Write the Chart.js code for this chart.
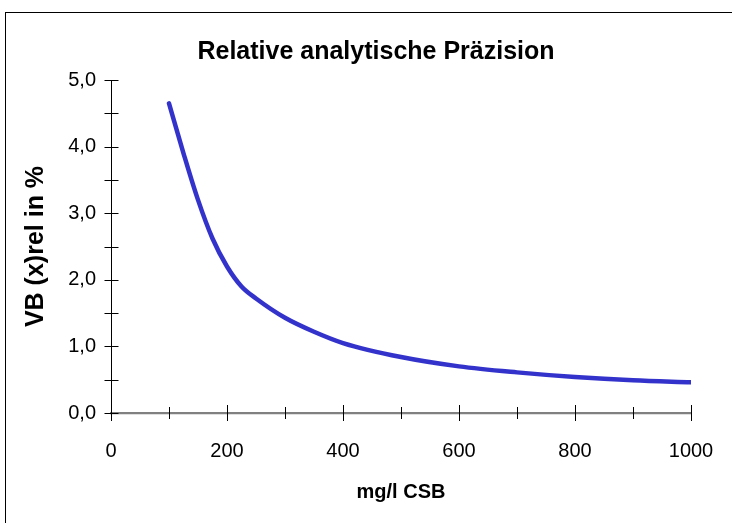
<!DOCTYPE html>
<html>
<head>
<meta charset="utf-8">
<script src="https://cdn.jsdelivr.net/npm/chart.js@4.4.1/dist/chart.umd.min.js"></script>
<style>
  html, body { margin: 0; padding: 0; background: #fff; }
  #wrap { position: relative; width: 732px; height: 523px; overflow: hidden; }
  #frame { position: absolute; left: 5px; top: 12px; width: 800px; height: 600px; border: 1px solid #000; }
  canvas { position: absolute; left: 0; top: 0; }
</style>
</head>
<body>
<div id="wrap">
  <div id="frame"></div>
  <canvas id="chart" width="732" height="523"></canvas>
</div>
<script>
// Concentration (mg/l CSB) and relative precision VB(x)rel in %
const concentration = [100, 125, 150, 175, 200, 225, 250, 300, 350, 400, 500, 600, 700, 800, 900, 1000];
const precision = [4.65, 3.9, 3.2, 2.62, 2.2, 1.9, 1.72, 1.43, 1.22, 1.05, 0.84, 0.70, 0.61, 0.54, 0.49, 0.46];

const xTickLabels = [0, 200, 400, 600, 800, 1000];

const chartTitle = "Relative analytische Präzision";

const font = "'Liberation Sans', Arial, sans-serif";

// Helper: German decimal comma
function formatComma(v) {
  return v.toFixed(1).replace(".", ",");
}

// Excel-style crossing tick marks on both axes, plus the chart title
// (the title is centred on the outer frame, not on the plot area)
const excelDecor = {
  id: "excelDecor",
  afterDraw(chart) {
    const ctx = chart.ctx;
    const x = chart.scales.x;
    const y = chart.scales.y;
    const x0 = Math.round(x.getPixelForValue(0)) + 0.5;
    const y0 = Math.round(y.getPixelForValue(0));
    ctx.save();
    ctx.lineWidth = 1;
    ctx.strokeStyle = "#000";
    for (let v = 0; v <= 1000; v += 100) {
      const px = Math.round(x.getPixelForValue(v)) + 0.5;
      const len = v % 200 === 0 ? 8 : 6;
      ctx.beginPath();
      ctx.moveTo(px, y0 - len);
      ctx.lineTo(px, y0 + len);
      ctx.stroke();
    }
    for (let v = 0; v <= 5; v += 0.5) {
      const py = Math.round(y.getPixelForValue(v)) + 0.5;
      ctx.beginPath();
      ctx.moveTo(x0 - 7, py);
      ctx.lineTo(x0 + 7, py);
      ctx.stroke();
    }

    ctx.fillStyle = "#000";
    ctx.font = "bold 25px " + font;
    ctx.textAlign = "center";
    ctx.textBaseline = "middle";
    ctx.fillText(chartTitle, 376, 52);
    ctx.restore();
  }
};

new Chart(document.getElementById("chart"), {
  type: "scatter",
  data: {
    datasets: [{
      data: concentration.map((c, i) => ({ x: c, y: precision[i] })),
      showLine: true,
      borderColor: "#3333CC",
      borderWidth: 4.5,
      pointRadius: 0,
      cubicInterpolationMode: "monotone",
      borderCapStyle: "round"
    }]
  },
  options: {
    responsive: false,
    animation: false,
    layout: { padding: { left: 0, right: 41, top: 80, bottom: 0 } },
    plugins: {
      legend: { display: false },
      tooltip: { enabled: false },
      title: { display: false }
    },
    scales: {
      x: {
        type: "linear",
        min: 0,
        max: 1000,
        afterFit(scale) { scale.height = 110; },
        afterBuildTicks(scale) { scale.ticks = xTickLabels.map(v => ({ value: v })); },
        grid: { display: false },
        border: { display: true, color: "#808080", width: 2.3 },
        ticks: {
          color: "#000",
          font: { family: font, size: 20 },
          padding: 18,
          maxRotation: 0,
          callback: v => String(v)
        },
        title: {
          display: true,
          text: "mg/l CSB",
          color: "#000",
          font: { family: font, size: 20, weight: "bold" },
          padding: { top: 0, bottom: 19 }
        }
      },
      y: {
        type: "linear",
        min: 0,
        max: 5,
        afterFit(scale) { scale.width = 111; },
        grid: { display: false },
        border: { display: true, color: "#000", width: 1 },
        ticks: {
          stepSize: 1,
          color: "#000",
          font: { family: font, size: 20 },
          padding: 7,
          callback: v => formatComma(v)
        },
        title: {
          display: true,
          text: "VB (x)rel in %",
          color: "#000",
          font: { family: font, size: 25, weight: "bold" },
          padding: { top: 21, bottom: 0 }
        }
      }
    }
  },
  plugins: [excelDecor]
});
</script>
</body>
</html>
